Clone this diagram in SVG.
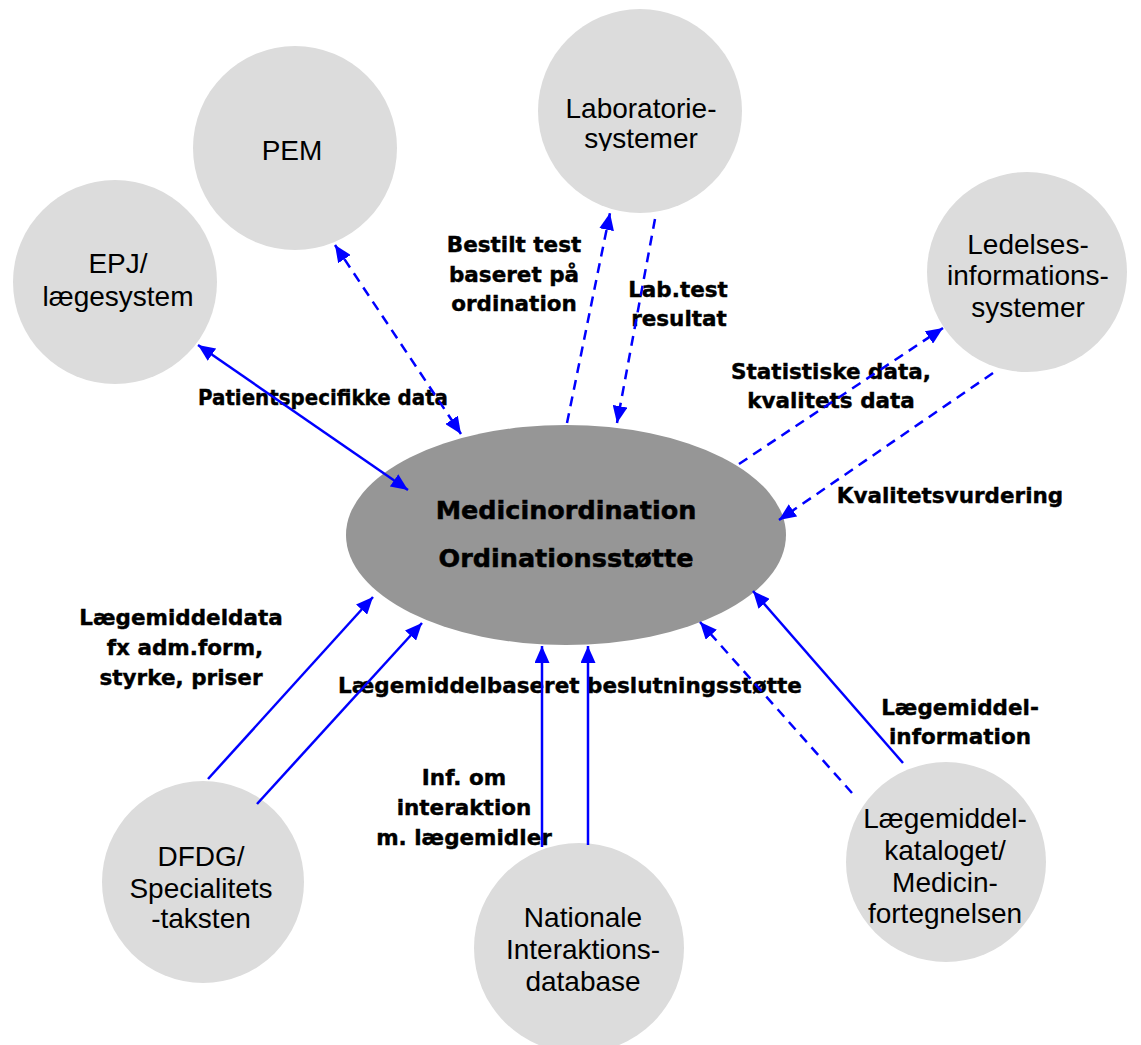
<svg xmlns="http://www.w3.org/2000/svg" width="1141" height="1045" viewBox="0 0 1141 1045">
<style>
.node{fill:#dcdcdc}
.ntext{font-family:"Liberation Sans",Arial,sans-serif;font-size:28px;fill:#000;text-anchor:middle}
.lbl{font-family:"DejaVu Sans",sans-serif;font-weight:bold;font-size:21.5px;fill:#000;stroke:#000;stroke-width:0.4;text-anchor:middle}
.ctext{font-family:"DejaVu Sans",sans-serif;font-weight:bold;font-size:25.5px;fill:#000;stroke:#000;stroke-width:0.5;text-anchor:middle}
.c{stroke:#0000ff;stroke-width:2.5;fill:none}
.d{stroke-dasharray:10,7}
</style>
<defs>
<marker id="ah" viewBox="0 0 17 15" refX="17" refY="7.5" markerWidth="17" markerHeight="15" markerUnits="userSpaceOnUse" orient="auto-start-reverse">
<path d="M0,0 L17,7.5 L0,15 z" fill="#0000ff"/>
</marker>
<clipPath id="labclip"><rect x="500" y="0" width="280" height="151"/></clipPath>
</defs>
<rect width="1141" height="1045" fill="#fff"/>
<g id="n-pem"><circle class="node" cx="295" cy="148" r="102"/><text class="ntext" x="292" y="160">PEM</text></g>
<g id="n-lab"><circle class="node" cx="640" cy="111" r="102"/><g clip-path="url(#labclip)"><text class="ntext" x="641" y="118">Laboratorie-</text><text class="ntext" x="641" y="148">systemer</text></g></g>
<g id="n-epj"><circle class="node" cx="115" cy="282" r="102"/><text class="ntext" x="118" y="273">EPJ/</text><text class="ntext" x="118" y="306">lægesystem</text></g>
<g id="n-led"><circle class="node" cx="1027" cy="272" r="100"/><text class="ntext" x="1028" y="254">Ledelses-</text><text class="ntext" x="1028" y="285">informations-</text><text class="ntext" x="1028" y="317">systemer</text></g>
<g id="n-dfdg"><circle class="node" cx="203" cy="882" r="101"/><text class="ntext" x="201" y="866">DFDG/</text><text class="ntext" x="201" y="898">Specialitets</text><text class="ntext" x="201" y="928">-taksten</text></g>
<g id="n-nat"><circle class="node" cx="579" cy="948" r="105"/><text class="ntext" x="583" y="927">Nationale</text><text class="ntext" x="583" y="959">Interaktions-</text><text class="ntext" x="583" y="991">database</text></g>
<g id="n-kat"><circle class="node" cx="946" cy="862" r="100"/><text class="ntext" x="945" y="828">Lægemiddel-</text><text class="ntext" x="945" y="860">kataloget/</text><text class="ntext" x="945" y="892">Medicin-</text><text class="ntext" x="945" y="923">fortegnelsen</text></g>
<g id="n-center"><ellipse cx="566" cy="535" rx="220" ry="110" fill="#969696"/><text class="ctext" x="566" y="519">Medicinordination</text><text class="ctext" x="566" y="567">Ordinationsstøtte</text></g>
<g id="labels">
<text class="lbl" x="323" y="405" textLength="250" lengthAdjust="spacingAndGlyphs">Patientspecifikke data</text>
<text class="lbl" x="514" y="252">Bestilt test</text>
<text class="lbl" x="514" y="282">baseret på</text>
<text class="lbl" x="514" y="311">ordination</text>
<text class="lbl" x="678" y="297">Lab.test</text>
<text class="lbl" x="679" y="326">resultat</text>
<text class="lbl" x="831" y="379">Statistiske data,</text>
<text class="lbl" x="831" y="408">kvalitets data</text>
<text class="lbl" x="950" y="503">Kvalitetsvurdering</text>
<text class="lbl" x="181" y="625">Lægemiddeldata</text>
<text class="lbl" x="185" y="655">fx adm.form,</text>
<text class="lbl" x="181" y="685">styrke, priser</text>
<text class="lbl" x="570" y="693">Lægemiddelbaseret beslutningsstøtte</text>
<text class="lbl" x="464" y="785">Inf. om</text>
<text class="lbl" x="464" y="815">interaktion</text>
<text class="lbl" x="464" y="845">m. lægemidler</text>
<text class="lbl" x="960" y="715">Lægemiddel-</text>
<text class="lbl" x="960" y="744">information</text>
</g>
<g id="connectors">
<path class="c" d="M198,345 L408,490" marker-start="url(#ah)" marker-end="url(#ah)"/>
<path class="c d" d="M335,245 L461,434" marker-start="url(#ah)" marker-end="url(#ah)"/>
<path class="c d" d="M567,423 L610,213" marker-end="url(#ah)"/>
<path class="c d" d="M655,219 L617,423" marker-end="url(#ah)"/>
<path class="c d" d="M739,464 L943,328" marker-end="url(#ah)"/>
<path class="c d" d="M993,373 L779,520" marker-end="url(#ah)"/>
<path class="c" d="M208,779 L373,597" marker-end="url(#ah)"/>
<path class="c" d="M257,804 L422,623" marker-end="url(#ah)"/>
<path class="c" d="M542,847 L542,646" marker-end="url(#ah)"/>
<path class="c" d="M588,845 L588,646" marker-end="url(#ah)"/>
<path class="c d" d="M852,793 L700,622" marker-end="url(#ah)"/>
<path class="c" d="M903,763 L753,591" marker-end="url(#ah)"/>
</g>
</svg>
